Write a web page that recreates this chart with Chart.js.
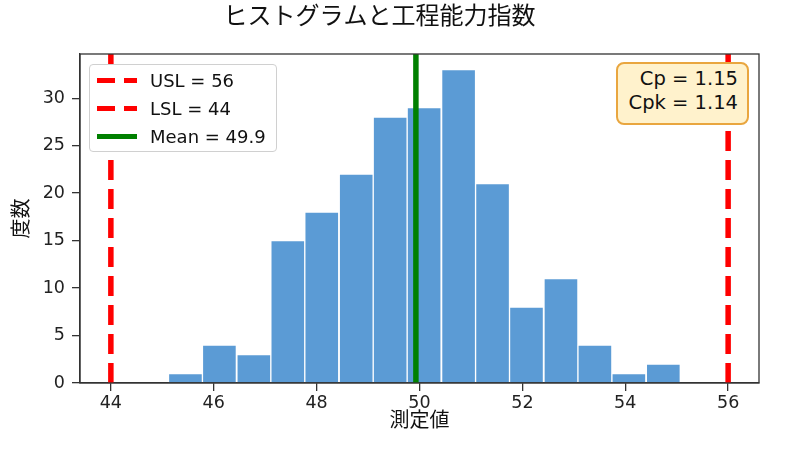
<!DOCTYPE html>
<html>
<head>
<meta charset="utf-8">
<script src="https://cdn.jsdelivr.net/npm/chart.js@4.4.1/dist/chart.umd.min.js"></script>
<style>
  body { margin: 0; background: #fff; }
  #wrap { position: relative; width: 800px; height: 451px; }
  .legend {
    position: absolute; left: 89px; top: 64px; width: 186px; height: 86px;
    border: 1px solid #d0d0d0; border-radius: 4px; background: #ffffff;
    font-family: "DejaVu Sans", sans-serif; font-size: 18px; color: #111;
  }
  .row { position: absolute; left: 0; height: 28px; display: flex; align-items: center; }
  .swatch { width: 40px; height: 5px; margin-left: 7px; margin-right: 13px; }
  .dash { background: repeating-linear-gradient(to right, #ff0000 0 18px, transparent 18px 27px); }
  .solid { background: #008000; }
  .cpbox {
    position: absolute; left: 616px; top: 62px; width: 129px; height: 56px;
    border: 2px solid #e9a63f; border-radius: 8px; background: #fff2cc;
    font-family: "DejaVu Sans", sans-serif; font-size: 19.5px; color: #111;
    text-align: right; line-height: 24px; padding-top: 3px; box-sizing: content-box;
  }
  .cpbox div { padding-right: 9px; }
</style>
</head>
<body>
<div id="wrap">
  <canvas id="c" width="800" height="451"></canvas>
  <div class="legend" id="legend"></div>
  <div class="cpbox" id="cpbox"></div>
</div>
<script>
// histogram bins (centres) and counts
const binCenters = [45.45, 46.11, 46.78, 47.44, 48.10, 48.77, 49.43, 50.09, 50.76, 51.42, 52.08, 52.75, 53.41, 54.07, 54.74];
const counts = [1, 4, 3, 15, 18, 22, 28, 29, 33, 21, 8, 11, 4, 1, 2];

const usl = 56;
const lsl = 44;
const mean = 49.93;
const cp = '1.15';
const cpk = '1.14';

const xTicks = [44, 46, 48, 50, 52, 54, 56];
const yTicks = [0, 5, 10, 15, 20, 25, 30];
const xRange = [43.4, 56.6];
const yRange = [0, 34.65];

const legendItems = [
  { label: 'USL = 56', style: 'dash' },
  { label: 'LSL = 44', style: 'dash' },
  { label: 'Mean = 49.9', style: 'solid' }
];

const legendEl = document.getElementById('legend');
legendItems.forEach((it, i) => {
  const row = document.createElement('div');
  row.className = 'row';
  row.style.top = (1 + i * 28) + 'px';
  row.innerHTML = `<span class="swatch ${it.style}"></span><span>${it.label}</span>`;
  legendEl.appendChild(row);
});
document.getElementById('cpbox').innerHTML = `<div>Cp = ${cp}</div><div>Cpk = ${cpk}</div>`;

function vline(x, color, dash) {
  return {
    type: 'line',
    data: [{ x: x, y: yRange[0] }, { x: x, y: yRange[1] }],
    borderColor: color,
    borderWidth: 5.5,
    borderDash: dash,
    borderCapStyle: 'butt',
    pointRadius: 0,
    order: 0
  };
}

const frame = {
  id: 'frame',
  afterDraw(ch) {
    const a = ch.chartArea, ctx = ch.ctx;
    ctx.save();
    ctx.strokeStyle = '#333';
    ctx.lineWidth = 1.3;
    ctx.strokeRect(a.left, a.top, a.right - a.left, a.bottom - a.top);
    ctx.restore();
  }
};

const tickFont = { family: 'DejaVu Sans', size: 17.5 };
const cjk = 'Noto Sans CJK JP';

new Chart(document.getElementById('c'), {
  type: 'bar',
  data: {
    datasets: [
      vline(usl, '#ff0000', [20, 9]),
      vline(lsl, '#ff0000', [20, 9]),
      vline(mean, '#008000', []),
      {
        type: 'bar',
        data: binCenters.map((x, i) => ({ x: x, y: counts[i] })),
        backgroundColor: '#5b9bd5',
        borderColor: '#ffffff',
        borderWidth: 1,
        barPercentage: 1,
        categoryPercentage: 1,
        grouped: false,
        order: 1
      }
    ]
  },
  options: {
    responsive: false,
    animation: false,
    layout: { padding: { left: 0, right: 41, top: 0, bottom: 0 } },
    plugins: {
      legend: { display: false },
      tooltip: { enabled: false },
      title: {
        display: true,
        text: 'ヒストグラムと工程能力指数',
        color: '#111',
        font: { family: cjk, size: 24, weight: 'normal' },
        padding: { top: 0, bottom: 25.2 }
      }
    },
    scales: {
      x: {
        type: 'linear',
        min: xRange[0],
        max: xRange[1],
        offset: false,
        afterBuildTicks: (s) => { s.ticks = xTicks.map((v) => ({ value: v })); },
        afterFit: (s) => { s.height = 68; },
        ticks: { font: tickFont, color: '#222', padding: 2, maxRotation: 0 },
        grid: { offset: false, drawOnChartArea: false, drawTicks: true, tickLength: 8, color: '#333', lineWidth: 1.3 },
        border: { display: true, color: '#333', width: 1.3 },
        title: { display: true, text: '測定値', color: '#111', font: { family: cjk, size: 20 }, padding: { top: 0, bottom: 20 } }
      },
      y: {
        type: 'linear',
        min: yRange[0],
        max: yRange[1],
        afterBuildTicks: (s) => { s.ticks = yTicks.map((v) => ({ value: v })); },
        afterFit: (s) => { s.width = 80; },
        ticks: { font: tickFont, color: '#222', padding: 7 },
        grid: { drawOnChartArea: false, drawTicks: true, tickLength: 8, color: '#333', lineWidth: 1.3 },
        border: { display: true, color: '#333', width: 1.3 },
        title: { display: true, text: '度数', color: '#111', font: { family: cjk, size: 20 }, padding: { top: 8, bottom: 0 } }
      }
    }
  },
  plugins: [frame]
});
</script>
</body>
</html>
